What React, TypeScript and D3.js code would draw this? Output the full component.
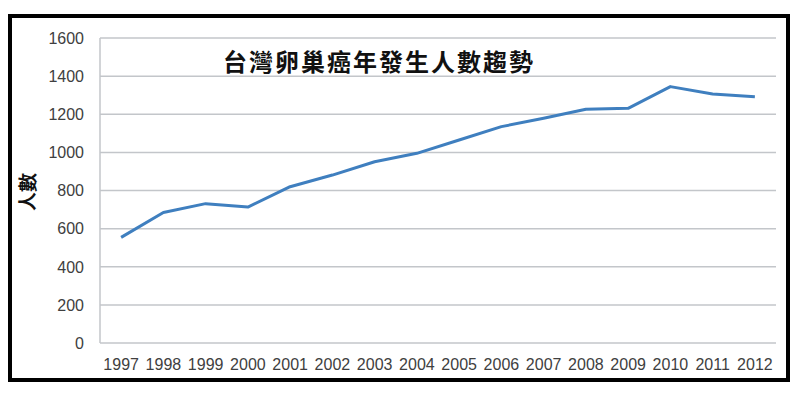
import { useRef, useEffect } from 'react';
import * as d3 from 'd3';

const years = ['1997', '1998', '1999', '2000', '2001', '2002', '2003', '2004', '2005', '2006', '2007', '2008', '2009', '2010', '2011', '2012'];
const cases = [554, 685, 731, 713, 820, 881, 951, 995, 1065, 1135, 1179, 1226, 1231, 1345, 1306, 1292];
const yTicks = [0, 200, 400, 600, 800, 1000, 1200, 1400, 1600];
const title = '台灣卵巢癌年發生人數趨勢';
const yLabel = '人數';

export default function App() {
  const svgRef = useRef<SVGSVGElement>(null);
  const width = 800;
  const height = 393;

  useEffect(() => {
    const svg = d3.select(svgRef.current);
    svg.selectAll('*').remove();

    const left = 100, right = 776, top = 38, bottom = 343;
    const x = d3.scaleBand().domain(years).range([left, right]);
    const y = d3.scaleLinear().domain([0, 1600]).range([bottom, top]);
    const font = 'Arial, "Liberation Sans", sans-serif';

    // outer frame
    svg.append('rect').attr('x', 10).attr('y', 16).attr('width', 778).attr('height', 364)
      .attr('fill', '#fff').attr('stroke', '#000').attr('stroke-width', 4);

    const g = svg.append('g');

    // gridlines + y tick labels
    yTicks.forEach((t) => {
      g.append('line').attr('x1', left).attr('x2', right).attr('y1', y(t)).attr('y2', y(t))
        .attr('stroke', '#c3c6ca').attr('stroke-width', 1.5);
      g.append('text').attr('x', 84).attr('y', y(t)).attr('dy', '0.36em')
        .attr('text-anchor', 'end').attr('fill', '#404040')
        .attr('font-size', '16px').attr('font-family', font)
        .text(t);
    });
    g.append('line').attr('x1', left).attr('x2', left).attr('y1', top).attr('y2', bottom)
      .attr('stroke', '#c3c6ca').attr('stroke-width', 1.5);

    // x labels
    years.forEach((yr) => {
      g.append('text').attr('x', x(yr)! + x.bandwidth() / 2).attr('y', 370)
        .attr('text-anchor', 'middle').attr('fill', '#404040')
        .attr('font-size', '16px').attr('font-family', font)
        .text(yr);
    });

    // line
    const line = d3.line<number>()
      .x((_, i) => x(years[i])! + x.bandwidth() / 2)
      .y((d) => y(d));
    g.append('path').attr('d', line(cases)!)
      .attr('fill', 'none').attr('stroke', '#3f7fbf').attr('stroke-width', 3)
      .attr('stroke-linejoin', 'round');

    // title
    g.append('text').attr('x', 379).attr('y', 71).attr('text-anchor', 'middle')
      .attr('font-size', '24px').attr('font-weight', 'bold').attr('letter-spacing', '2px')
      .attr('font-family', '"Noto Sans CJK TC", sans-serif').attr('fill', '#111')
      .text(title);

    // y axis label
    g.append('text').attr('transform', 'translate(28,192) rotate(-90)')
      .attr('text-anchor', 'middle').attr('dy', '0.35em')
      .attr('font-size', '19px').attr('font-weight', 'bold')
      .attr('font-family', '"Noto Sans CJK TC", sans-serif')
      .attr('fill', '#111')
      .text(yLabel);
  }, []);

  return (
    <svg ref={svgRef} width={width} height={height}
      style={{ position: 'absolute', left: 0, top: 0, display: 'block', background: '#fff' }} />
  );
}
